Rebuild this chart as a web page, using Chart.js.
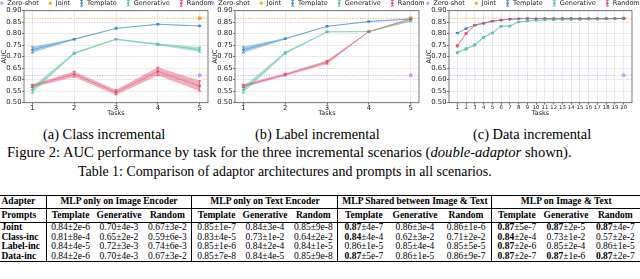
<!DOCTYPE html>
<html><head><meta charset="utf-8">
<script src="https://cdn.jsdelivr.net/npm/chart.js@4.4.0/dist/chart.umd.min.js"></script>
<style>
html,body{margin:0;padding:0;background:#fff;}
#page{position:relative;width:640px;height:279px;overflow:hidden;background:#fff;}
canvas{position:absolute;top:0;}
.cap{position:absolute;font-family:"Liberation Serif","Times New Roman",serif;font-size:14.4px;line-height:1;white-space:nowrap;color:#000;}
table{position:absolute;left:0;top:194.5px;width:640px;border-collapse:collapse;table-layout:fixed;font-family:"Liberation Serif","Times New Roman",serif;font-size:9.5px;line-height:9px;color:#000;}
td{padding:0;text-align:center;white-space:nowrap;overflow:visible;line-height:9px;vertical-align:middle;}
td.l{text-align:left;padding-left:1.5px;}
td.b{font-weight:bold;}
td.vl{border-left:0.8px solid #000;}
tr.h1 td{height:12px;border-top:1.2px solid #000;border-bottom:0.8px solid #000;}
tr.h2 td{height:13.5px;border-bottom:0.8px solid #000;}
tr.d td{height:9.6px;}
tr.last td{border-bottom:1.2px solid #000;}
</style></head>
<body><div id="page">
<canvas id="cA" width="213" height="117" style="left:0px"></canvas>
<canvas id="cB" width="213" height="117" style="left:211px"></canvas>
<canvas id="cC" width="215" height="117" style="left:425px"></canvas>
<div class="cap" style="left:43px;top:126.5px">(a) Class incremental</div>
<div class="cap" style="left:255px;top:126.5px">(b) Label incremental</div>
<div class="cap" style="left:473px;top:126.5px">(c) Data incremental</div>
<div class="cap" style="left:7px;top:144.5px;font-size:14.6px">Figure 2: AUC performance by task for the three incremental scenarios (<i>double-adaptor</i> shown).</div>
<div class="cap" style="left:78px;top:165px;font-size:13.9px">Table 1: Comparison of adaptor architectures and prompts in all scenarios.</div>
<table id="tbl"></table>
</div>
<script>
// ---------------- chart data ----------------
const TASKS_5 = [1, 2, 3, 4, 5];
const TASKS_20 = [1, 2, 3, 4, 5, 6, 7, 8, 9, 10, 11, 12, 13, 14, 15, 16, 17, 18, 19, 20];
const X_LIMITS_5 = [0.8, 5.2];
const X_LIMITS_20 = [0.05, 20.95];
const Y_TICKS = [0.50, 0.55, 0.60, 0.65, 0.70, 0.75, 0.80, 0.85, 0.90];
const Y_LIMITS = [0.50, 0.90];
const SERIES_NAMES = ['Zero-shot', 'Joint', 'Template', 'Generative', 'Random'];
const ZERO_SHOT_AUC = 0.619;
const JOINT_AUC = 0.867;

// (a) Class incremental
const CLASS_TEMPLATE = [0.730, 0.776, 0.823, 0.841, 0.834];
const CLASS_TEMPLATE_ERR = [0.013, 0.003, 0.002, 0.002, 0.002];
const CLASS_GENERATIVE = [0.556, 0.715, 0.776, 0.754, 0.731];
const CLASS_GENERATIVE_ERR = [0.014, 0.004, 0.003, 0.004, 0.011];
const CLASS_RANDOM = [0.573, 0.624, 0.545, 0.636, 0.573];
const CLASS_RANDOM_ERR = [0.007, 0.012, 0.011, 0.018, 0.022];

// (b) Label incremental
const LABEL_TEMPLATE = [0.730, 0.778, 0.832, 0.853, 0.864];
const LABEL_TEMPLATE_ERR = [0.013, 0.003, 0.002, 0.002, 0.002];
const LABEL_GENERATIVE = [0.556, 0.716, 0.808, 0.809, 0.856];
const LABEL_GENERATIVE_ERR = [0.014, 0.005, 0.002, 0.002, 0.004];
const LABEL_RANDOM = [0.573, 0.622, 0.676, 0.809, 0.864];
const LABEL_RANDOM_ERR = [0.007, 0.006, 0.008, 0.002, 0.003];

// (c) Data incremental
const DATA_TEMPLATE = [0.803, 0.822, 0.838, 0.846, 0.854, 0.859, 0.863, 0.865, 0.866, 0.865, 0.866, 0.865, 0.866, 0.866, 0.865, 0.866, 0.866, 0.866, 0.866, 0.866];
const DATA_TEMPLATE_ERR = [0.002, 0.002, 0.002, 0.002, 0.002, 0.001, 0.001, 0.001, 0.001, 0.001, 0.001, 0.001, 0.001, 0.001, 0.001, 0.001, 0.001, 0.001, 0.001, 0.001];
const DATA_GENERATIVE = [0.717, 0.734, 0.751, 0.784, 0.803, 0.832, 0.833, 0.851, 0.855, 0.858, 0.860, 0.861, 0.862, 0.862, 0.862, 0.863, 0.863, 0.864, 0.865, 0.866];
const DATA_GENERATIVE_ERR = [0.004, 0.004, 0.004, 0.004, 0.003, 0.003, 0.003, 0.002, 0.002, 0.002, 0.002, 0.002, 0.002, 0.002, 0.002, 0.002, 0.002, 0.002, 0.002, 0.002];
const DATA_RANDOM = [0.747, 0.801, 0.837, 0.845, 0.855, 0.859, 0.863, 0.865, 0.866, 0.865, 0.866, 0.866, 0.866, 0.866, 0.866, 0.866, 0.866, 0.866, 0.866, 0.866];
const DATA_RANDOM_ERR = [0.004, 0.003, 0.002, 0.002, 0.002, 0.001, 0.001, 0.001, 0.001, 0.001, 0.001, 0.001, 0.001, 0.001, 0.001, 0.001, 0.001, 0.001, 0.001, 0.001];

// ---------------- table data ----------------
const TABLE_GROUPS = ['MLP only on Image Encoder', 'MLP only on Text Encoder', 'MLP Shared between Image & Text', 'MLP on Image & Text'];
const TABLE_PROMPTS = ['Template', 'Generative', 'Random'];
const TABLE_ROWS = ['Joint', 'Class-inc', 'Label-inc', 'Data-inc'];
const TABLE_MEANS = [
  ['0.84', '0.70', '0.67', '0.85', '0.84', '0.85', '0.87', '0.86', '0.86', '0.87', '0.87', '0.87'],
  ['0.81', '0.65', '0.59', '0.83', '0.73', '0.64', '0.84', '0.62', '0.71', '0.84', '0.73', '0.57'],
  ['0.84', '0.72', '0.74', '0.85', '0.84', '0.84', '0.86', '0.85', '0.85', '0.87', '0.85', '0.86'],
  ['0.84', '0.70', '0.67', '0.85', '0.84', '0.85', '0.87', '0.86', '0.86', '0.87', '0.87', '0.87']
];
const TABLE_STDS = [
  ['2e-6', '4e-3', '3e-2', '1e-7', '3e-4', '9e-8', '4e-7', '3e-4', '1e-6', '5e-7', '2e-5', '4e-7'],
  ['8e-4', '2e-2', '6e-3', '4e-5', '1e-2', '2e-2', '4e-4', '3e-2', '2e-2', '2e-4', '1e-2', '2e-2'],
  ['4e-5', '3e-3', '6e-3', '1e-6', '2e-4', '1e-5', '1e-5', '4e-4', '5e-5', '2e-6', '2e-4', '1e-5'],
  ['2e-6', '4e-3', '3e-2', '7e-8', '4e-5', '9e-8', '5e-7', '1e-5', '9e-7', '2e-7', '1e-6', '2e-7']
];
const TABLE_BOLD = [
  [0, 0, 0, 0, 0, 0, 1, 0, 0, 1, 1, 1],
  [0, 0, 0, 0, 0, 0, 1, 0, 0, 1, 0, 0],
  [0, 0, 0, 0, 0, 0, 0, 0, 0, 1, 0, 0],
  [0, 0, 0, 0, 0, 0, 1, 0, 0, 1, 1, 1]
];

// ---------------- styling ----------------
const COLORS = {zero: '#c59cf6', joint: '#f6a81f', template: '#3c8dca', generative: '#56c39c', random: '#e0506a'};
const TICK_FONT = 6.8;
const LEGEND_FONT = 6.5;
const Y_AXIS_W = 24;
const X_AXIS_H = 14.3;
const PAD_TOP = 10.7;
const GROUP_WIDTHS = [146, 146, 154, 148];
const FIRST_COL_W = 46;

Chart.defaults.font.family = '"DejaVu Sans", sans-serif';
Chart.defaults.color = '#222';

function rgba(hex, a) {
  const n = parseInt(hex.slice(1), 16);
  return `rgba(${(n >> 16) & 255},${(n >> 8) & 255},${n & 255},${a})`;
}

const framePlugin = {
  id: 'frame',
  afterDatasetsDraw(chart) {
    const a = chart.chartArea, ctx = chart.ctx;
    ctx.save();
    ctx.strokeStyle = '#555';
    ctx.lineWidth = 0.8;
    ctx.strokeRect(a.left, a.top, a.right - a.left, a.bottom - a.top);
    ctx.restore();
  }
};

const errorBarPlugin = {
  id: 'errbars',
  afterDatasetsDraw(chart) {
    const ctx = chart.ctx, xs = chart.scales.x, ys = chart.scales.y;
    chart.data.datasets.forEach(d => {
      if (!d.errors) return;
      ctx.save();
      ctx.strokeStyle = d.glyphColor;
      ctx.lineWidth = 0.9;
      d.data.forEach((p, i) => {
        const e = d.errors[i];
        const x = xs.getPixelForValue(p.x);
        const y1 = ys.getPixelForValue(p.y - e), y2 = ys.getPixelForValue(p.y + e);
        const c = 1.6;
        ctx.beginPath();
        ctx.moveTo(x, y1); ctx.lineTo(x, y2);
        ctx.moveTo(x - c, y1); ctx.lineTo(x + c, y1);
        ctx.moveTo(x - c, y2); ctx.lineTo(x + c, y2);
        ctx.stroke();
      });
      ctx.restore();
    });
  }
};

const legendPlugin = {
  id: 'mplLegend',
  afterDraw(chart) {
    const ctx = chart.ctx;
    const items = chart.data.datasets.filter(d => d.legendGlyph);
    ctx.save();
    ctx.font = `${LEGEND_FONT}px "DejaVu Sans"`;
    const handle = 5, gap = 3, spacing = 9;
    const widths = items.map(d => ctx.measureText(d.label).width);
    const total = widths.reduce((s, w) => s + handle + gap + w, 0) + spacing * (items.length - 1);
    let x = (chart.width - total) / 2;
    const y = 3.2;
    items.forEach((d, i) => {
      const cx = x + handle / 2;
      if (d.legendGlyph === 'errorbar') {
        ctx.strokeStyle = d.glyphColor;
        ctx.lineWidth = 0.9;
        ctx.beginPath();
        ctx.moveTo(cx, y - 2.8); ctx.lineTo(cx, y + 2.8);
        ctx.moveTo(cx - 1.6, y - 2.8); ctx.lineTo(cx + 1.6, y - 2.8);
        ctx.moveTo(cx - 1.6, y + 2.8); ctx.lineTo(cx + 1.6, y + 2.8);
        ctx.stroke();
        ctx.fillStyle = d.glyphColor;
        ctx.beginPath(); ctx.arc(cx, y, 1.2, 0, Math.PI * 2); ctx.fill();
      } else {
        ctx.fillStyle = d.glyphColor;
        ctx.beginPath(); ctx.arc(cx, y, 1.6, 0, Math.PI * 2); ctx.fill();
      }
      ctx.fillStyle = '#222';
      ctx.textBaseline = 'middle';
      ctx.textAlign = 'left';
      ctx.fillText(d.label, x + handle + gap, y);
      x += handle + gap + widths[i] + spacing;
    });
    ctx.restore();
  }
};

function makePanel(canvasId, tasks, xLimits, series, padRight, xTickFont) {
  const last = tasks[tasks.length - 1];
  const datasets = [];
  [[SERIES_NAMES[0], ZERO_SHOT_AUC, COLORS.zero], [SERIES_NAMES[1], JOINT_AUC, COLORS.joint]].forEach(([name, v, c]) => {
    datasets.push({
      label: name,
      data: [{x: xLimits[0], y: v}, {x: last, y: v}, {x: xLimits[1], y: v}],
      borderColor: rgba(c, 0.9), borderWidth: 1, borderDash: [1.2, 1.4],
      pointRadius: [0, 2, 0], pointBackgroundColor: c, pointBorderWidth: 0,
      fill: false, order: 20, legendGlyph: 'point', glyphColor: c
    });
  });
  series.forEach(s => {
    datasets.push({
      label: s.name + ' lower', data: tasks.map((t, i) => ({x: t, y: s.values[i] - s.errors[i]})),
      borderWidth: 0, borderColor: 'rgba(0,0,0,0)', pointRadius: 0, fill: false, order: 10
    });
    datasets.push({
      label: s.name + ' upper', data: tasks.map((t, i) => ({x: t, y: s.values[i] + s.errors[i]})),
      borderWidth: 0, borderColor: 'rgba(0,0,0,0)', pointRadius: 0, fill: '-1',
      backgroundColor: rgba(s.color, 0.45), order: 10
    });
    datasets.push({
      label: s.name, data: tasks.map((t, i) => ({x: t, y: s.values[i]})), errors: s.errors,
      borderColor: rgba(s.color, 0.55), borderWidth: 1, pointRadius: 1.3,
      pointBackgroundColor: s.color, pointBorderWidth: 0, fill: false, order: 1,
      legendGlyph: 'errorbar', glyphColor: s.color
    });
  });
  return new Chart(document.getElementById(canvasId), {
    type: 'line',
    data: {datasets},
    options: {
      responsive: false, animation: false, devicePixelRatio: 1,
      layout: {padding: {top: PAD_TOP, right: padRight, bottom: 0, left: 0}},
      plugins: {legend: {display: false}, tooltip: {enabled: false}},
      scales: {
        x: {
          type: 'linear', min: xLimits[0], max: xLimits[1],
          afterBuildTicks: sc => { sc.ticks = tasks.map(v => ({value: v})); },
          afterFit: sc => { sc.height = X_AXIS_H; },
          ticks: {autoSkip: false, maxRotation: 0, minRotation: 0, padding: 0, color: '#222',
                  font: {size: xTickFont, lineHeight: 1.1}, callback: v => String(v)},
          grid: {color: '#e4e4e4', lineWidth: 0.8, tickLength: 2, tickColor: '#555', drawTicks: true},
          border: {display: false},
          title: {display: true, text: 'Tasks', color: '#222', font: {size: LEGEND_FONT, lineHeight: 1.1}, padding: {top: 0, bottom: 0}}
        },
        y: {
          min: Y_LIMITS[0], max: Y_LIMITS[1],
          afterBuildTicks: sc => { sc.ticks = Y_TICKS.map(v => ({value: v})); },
          afterFit: sc => { sc.width = Y_AXIS_W; },
          ticks: {padding: 0.5, color: '#222', font: {size: TICK_FONT}, callback: v => Number(v).toFixed(2)},
          grid: {color: '#e4e4e4', lineWidth: 0.8, tickLength: 2, tickColor: '#555', drawTicks: true},
          border: {display: false},
          title: {display: true, text: 'AUC', color: '#222', font: {size: LEGEND_FONT, lineHeight: 1.1}, padding: {top: 1, bottom: 0}}
        }
      }
    },
    plugins: [framePlugin, errorBarPlugin, legendPlugin]
  });
}

makePanel('cA', TASKS_5, X_LIMITS_5, [
  {name: SERIES_NAMES[2], values: CLASS_TEMPLATE, errors: CLASS_TEMPLATE_ERR, color: COLORS.template},
  {name: SERIES_NAMES[3], values: CLASS_GENERATIVE, errors: CLASS_GENERATIVE_ERR, color: COLORS.generative},
  {name: SERIES_NAMES[4], values: CLASS_RANDOM, errors: CLASS_RANDOM_ERR, color: COLORS.random}
], 5, TICK_FONT);
makePanel('cB', TASKS_5, X_LIMITS_5, [
  {name: SERIES_NAMES[2], values: LABEL_TEMPLATE, errors: LABEL_TEMPLATE_ERR, color: COLORS.template},
  {name: SERIES_NAMES[3], values: LABEL_GENERATIVE, errors: LABEL_GENERATIVE_ERR, color: COLORS.generative},
  {name: SERIES_NAMES[4], values: LABEL_RANDOM, errors: LABEL_RANDOM_ERR, color: COLORS.random}
], 5, TICK_FONT);
makePanel('cC', TASKS_20, X_LIMITS_20, [
  {name: SERIES_NAMES[2], values: DATA_TEMPLATE, errors: DATA_TEMPLATE_ERR, color: COLORS.template},
  {name: SERIES_NAMES[3], values: DATA_GENERATIVE, errors: DATA_GENERATIVE_ERR, color: COLORS.generative},
  {name: SERIES_NAMES[4], values: DATA_RANDOM, errors: DATA_RANDOM_ERR, color: COLORS.random}
], 8, 5.3);

// ---------------- table ----------------
(function buildTable() {
  let h = `<colgroup><col style="width:${FIRST_COL_W}px">`;
  GROUP_WIDTHS.forEach(w => { for (let k = 0; k < 3; k++) h += `<col style="width:${w / 3}px">`; });
  h += '</colgroup>';
  h += '<tr class="h1"><td class="l b">Adapter</td>';
  TABLE_GROUPS.forEach(g => { h += `<td colspan="3" class="b vl">${g.replace('&', '&amp;')}</td>`; });
  h += '</tr><tr class="h2"><td class="l b">Prompts</td>';
  TABLE_GROUPS.forEach(() => TABLE_PROMPTS.forEach((p, k) => { h += `<td class="b${k === 0 ? ' vl' : ''}">${p}</td>`; }));
  h += '</tr>';
  TABLE_ROWS.forEach((r, i) => {
    h += `<tr class="d${i === TABLE_ROWS.length - 1 ? ' last' : ''}"><td class="l b">${r}</td>`;
    TABLE_MEANS[i].forEach((m, j) => {
      const mean = TABLE_BOLD[i][j] ? `<b>${m}</b>` : m;
      h += `<td class="${j % 3 === 0 ? 'vl' : ''}">${mean}±${TABLE_STDS[i][j]}</td>`;
    });
    h += '</tr>';
  });
  document.getElementById('tbl').innerHTML = h;
})();
</script>
</body></html>
